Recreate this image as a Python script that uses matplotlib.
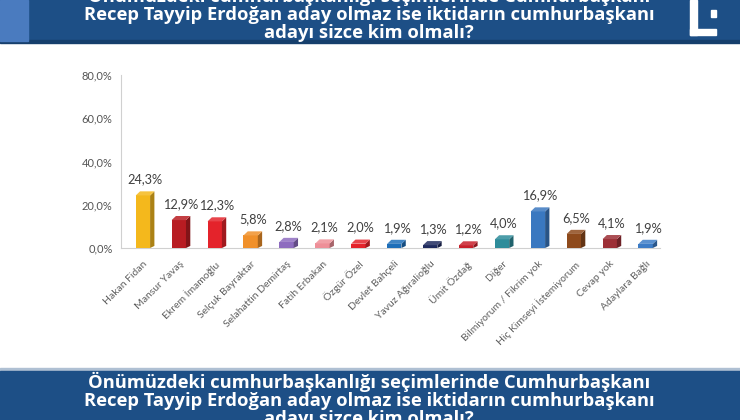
import matplotlib
matplotlib.use("Agg")
import matplotlib.pyplot as plt
from matplotlib.patches import Polygon, Rectangle
import matplotlib.colors as mcolors

categories = ["Hakan Fidan", "Mansur Yavaş", "Ekrem İmamoğlu", "Selçuk Bayraktar",
              "Selahattin Demirtaş", "Fatih Erbakan", "Özgür Özel", "Devlet Bahçeli",
              "Yavuz Ağıralioğlu", "Ümit Özdağ", "Diğer", "Bilmiyorum / Fikrim yok",
              "Hiç Kimseyi İstemiyorum", "Cevap yok", "Adaylara Bağlı"]
values = [24.3, 12.9, 12.3, 5.8, 2.8, 2.1, 2.0, 1.9, 1.3, 1.2, 4.0, 16.9, 6.5, 4.1, 1.9]
colors = ["#F4B81C", "#B81C22", "#E4232B", "#F0902A", "#8E6CBF", "#EE8F98", "#E4232B",
          "#1E6EB8", "#1F2B5E", "#C8202B", "#2E8C9A", "#3A78C0", "#8E4A1C", "#9C2F36",
          "#3D7CC6"]
yticks = [0, 20, 40, 60, 80]
ytick_labels = ["0,0%", "20,0%", "40,0%", "60,0%", "80,0%"]
title_lines = ["Önümüzdeki cumhurbaşkanlığı seçimlerinde Cumhurbaşkanı",
               "Recep Tayyip Erdoğan aday olmaz ise iktidarın cumhurbaşkanı",
               "adayı sizce kim olmalı?"]

W, H = 740, 420
fig = plt.figure(figsize=(7.4, 4.2), dpi=100)
fig.patch.set_facecolor("white")

# Banner layer
bg = fig.add_axes([0, 0, 1, 1])
bg.set_xlim(0, W)
bg.set_ylim(H, 0)
bg.axis("off")
dark = "#1D4F86"
bg.add_patch(Rectangle((0, 0), W, 42, color=dark, zorder=1))
bg.add_patch(Rectangle((0, 40), W, 3, color="#163F6C", zorder=1))
bg.add_patch(Rectangle((0, 0), 28, 41, color="#4A7BBF", zorder=2))
bg.add_patch(Rectangle((0, 368), W, 4, color="#AFC0D3", zorder=1))
bg.add_patch(Rectangle((0, 371), W, 49, color=dark, zorder=1))
# logo
for (x, y, w, h) in [(690, 0, 7, 35), (690, 29, 26, 6), (711, 10, 5, 7)]:
    bg.add_patch(Rectangle((x, y), w, h, color="white", zorder=3))

title = "\n".join(title_lines)
tfont = dict(family=["Open Sans", "DejaVu Sans"], fontweight="bold", color="white",
             fontsize=13.2, ha="center", va="center", multialignment="center",
             linespacing=1.0, zorder=4)
bg.text(369, 14, title, **tfont)
bg.text(369, 399.5, title, **tfont)

# Chart
ax = fig.add_axes([121 / W, 1 - 248 / H, 539 / W, 173 / H])
ax.set_xlim(-0.61, 14.4)
ax.set_ylim(0, 80)
for s in ["top", "right"]:
    ax.spines[s].set_visible(False)
ax.spines["left"].set_color("#D0D0D0")
ax.spines["bottom"].set_color("#D0D0D0")
ax.set_yticks(yticks)
ax.set_yticklabels(ytick_labels, family=["Lato", "DejaVu Sans"], fontsize=8, color="#555555")
ax.tick_params(axis="y", length=0, pad=6)
ax.set_xticks(range(len(categories)))
ax.set_xticklabels(categories, rotation=45, ha="right", rotation_mode="anchor",
                   family=["Lato", "DejaVu Sans"], fontsize=7.5, color="#606060")
ax.tick_params(axis="x", length=0, pad=8)

w = 0.40
dx = 0.12
dy = 1.9
for i, (v, c) in enumerate(zip(values, colors)):
    rgb = mcolors.to_rgb(c)
    darker = tuple(max(0, ch * 0.7) for ch in rgb)
    lighter = tuple(min(1, ch + (1 - ch) * 0.15) for ch in rgb)
    x0, x1 = i - w / 2, i + w / 2
    ax.add_patch(Rectangle((x0, 0), w, v, facecolor=c, edgecolor="none", zorder=3))
    ax.add_patch(Polygon([(x1, 0), (x1 + dx, dy * 0.5), (x1 + dx, v + dy), (x1, v)],
                         closed=True, facecolor=darker, edgecolor="none", zorder=3))
    ax.add_patch(Polygon([(x0, v), (x1, v), (x1 + dx, v + dy), (x0 + dx, v + dy)],
                         closed=True, facecolor=lighter, edgecolor="none", zorder=3))
    ax.text(i + dx / 2, v + dy + 2.8, f"{v:.1f}%".replace(".", ","), ha="center", va="bottom",
            family=["Lato", "DejaVu Sans"], fontsize=9.2, color="#404040", zorder=4)

fig.savefig("out.png", dpi=100, facecolor="white")
